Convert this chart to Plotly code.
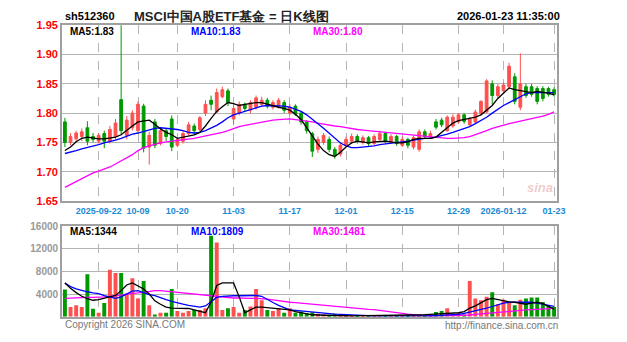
import pandas as pd
import plotly.graph_objects as go

# ---------------- data ----------------
holidays = ["2025-10-01", "2025-10-02", "2025-10-03", "2025-10-06", "2025-10-07",
            "2025-10-08", "2026-01-01", "2026-01-02"]
days = pd.bdate_range("2025-09-12", "2026-01-23")
dates = [d.strftime("%Y-%m-%d") for d in days if d.strftime("%Y-%m-%d") not in holidays]

opens = [1.785, 1.750, 1.756, 1.760, 1.775, 1.760, 1.752, 1.765, 1.752, 1.760,
         1.823, 1.762, 1.775, 1.770, 1.812, 1.742, 1.785, 1.748, 1.770, 1.790,
         1.745, 1.752, 1.765, 1.778, 1.772, 1.800, 1.822, 1.802, 1.828, 1.838,
         1.790, 1.800, 1.815, 1.805, 1.810, 1.815, 1.822, 1.810, 1.812, 1.818,
         1.800, 1.812, 1.800, 1.785, 1.765, 1.738, 1.750, 1.755, 1.738, 1.730,
         1.745, 1.752, 1.760, 1.750, 1.758, 1.748, 1.755, 1.765, 1.752, 1.760,
         1.745, 1.755, 1.742, 1.738, 1.768, 1.760, 1.785, 1.788, 1.770, 1.778,
         1.785, 1.797, 1.780, 1.785, 1.800, 1.802, 1.850, 1.830, 1.838, 1.845,
         1.862, 1.810, 1.845, 1.845, 1.842, 1.842, 1.842, 1.840]
highs = [1.792, 1.766, 1.770, 1.774, 1.786, 1.766, 1.766, 1.770, 1.778, 1.790,
         1.960, 1.795, 1.805, 1.820, 1.816, 1.768, 1.790, 1.775, 1.774, 1.796,
         1.758, 1.770, 1.785, 1.782, 1.795, 1.822, 1.830, 1.842, 1.845, 1.842,
         1.815, 1.820, 1.818, 1.822, 1.830, 1.828, 1.826, 1.822, 1.826, 1.822,
         1.815, 1.815, 1.803, 1.788, 1.768, 1.760, 1.766, 1.760, 1.742, 1.750,
         1.760, 1.765, 1.764, 1.762, 1.761, 1.764, 1.770, 1.768, 1.764, 1.763,
         1.760, 1.758, 1.762, 1.772, 1.772, 1.770, 1.790, 1.792, 1.796, 1.798,
         1.800, 1.800, 1.793, 1.806, 1.822, 1.858, 1.856, 1.850, 1.852, 1.886,
         1.868, 1.902, 1.850, 1.850, 1.846, 1.846, 1.845, 1.844]
lows = [1.742, 1.745, 1.750, 1.752, 1.745, 1.750, 1.748, 1.740, 1.748, 1.755,
        1.762, 1.755, 1.770, 1.765, 1.733, 1.712, 1.740, 1.745, 1.752, 1.735,
        1.742, 1.748, 1.762, 1.764, 1.768, 1.795, 1.805, 1.800, 1.825, 1.812,
        1.780, 1.796, 1.802, 1.800, 1.806, 1.812, 1.808, 1.806, 1.808, 1.800,
        1.796, 1.795, 1.780, 1.765, 1.725, 1.732, 1.746, 1.733, 1.722, 1.726,
        1.742, 1.748, 1.748, 1.746, 1.744, 1.745, 1.752, 1.748, 1.748, 1.744,
        1.742, 1.740, 1.738, 1.734, 1.756, 1.757, 1.772, 1.776, 1.768, 1.775,
        1.782, 1.782, 1.777, 1.782, 1.797, 1.800, 1.815, 1.826, 1.835, 1.842,
        1.815, 1.805, 1.826, 1.828, 1.815, 1.820, 1.828, 1.828]
closes = [1.750, 1.760, 1.766, 1.768, 1.752, 1.755, 1.762, 1.752, 1.772, 1.783,
          1.770, 1.788, 1.800, 1.815, 1.740, 1.762, 1.745, 1.770, 1.760, 1.742,
          1.755, 1.765, 1.780, 1.770, 1.792, 1.815, 1.815, 1.835, 1.840, 1.818,
          1.808, 1.815, 1.808, 1.818, 1.826, 1.822, 1.812, 1.818, 1.822, 1.805,
          1.810, 1.798, 1.785, 1.770, 1.735, 1.755, 1.762, 1.738, 1.728, 1.745,
          1.755, 1.760, 1.752, 1.758, 1.748, 1.760, 1.765, 1.752, 1.760, 1.748,
          1.755, 1.745, 1.758, 1.768, 1.760, 1.765, 1.776, 1.780, 1.793, 1.793,
          1.797, 1.786, 1.790, 1.802, 1.820, 1.855, 1.830, 1.845, 1.848, 1.880,
          1.820, 1.850, 1.830, 1.832, 1.820, 1.825, 1.832, 1.832]

ma5 = [1.736, 1.742, 1.751, 1.757, 1.759, 1.757, 1.756, 1.756, 1.757, 1.759,
       1.763, 1.771, 1.778, 1.785, 1.786, 1.788, 1.781, 1.773, 1.767, 1.763,
       1.757, 1.759, 1.761, 1.763, 1.767, 1.778, 1.791, 1.803, 1.811, 1.818,
       1.816, 1.813, 1.815, 1.817, 1.818, 1.818, 1.815, 1.813, 1.810, 1.808,
       1.805, 1.798, 1.789, 1.775, 1.761, 1.747, 1.736, 1.729, 1.726, 1.733,
       1.742, 1.749, 1.752, 1.751, 1.749, 1.751, 1.752, 1.752, 1.751, 1.749,
       1.749, 1.751, 1.755, 1.757, 1.757, 1.757, 1.759, 1.767, 1.775, 1.783,
       1.787, 1.789, 1.790, 1.793, 1.797, 1.805, 1.813, 1.825, 1.834, 1.843,
       1.840, 1.838, 1.836, 1.835, 1.837, 1.836, 1.834, 1.831]
ma10 = [1.731, 1.733, 1.736, 1.739, 1.741, 1.744, 1.746, 1.749, 1.751, 1.754,
        1.757, 1.761, 1.764, 1.766, 1.769, 1.772, 1.774, 1.775, 1.774, 1.774,
        1.772, 1.770, 1.767, 1.766, 1.767, 1.770, 1.774, 1.779, 1.785, 1.792,
        1.797, 1.800, 1.803, 1.807, 1.810, 1.812, 1.813, 1.813, 1.812, 1.812,
        1.810, 1.807, 1.803, 1.797, 1.790, 1.782, 1.774, 1.766, 1.757, 1.749,
        1.744, 1.741, 1.741, 1.742, 1.742, 1.744, 1.746, 1.747, 1.749, 1.749,
        1.751, 1.752, 1.754, 1.756, 1.757, 1.757, 1.759, 1.761, 1.764, 1.767,
        1.770, 1.774, 1.777, 1.782, 1.787, 1.793, 1.800, 1.807, 1.813, 1.818,
        1.823, 1.828, 1.833, 1.835, 1.835, 1.835, 1.835, 1.835]
ma30 = [1.673, 1.678, 1.683, 1.689, 1.693, 1.698, 1.701, 1.704, 1.708, 1.713,
        1.718, 1.723, 1.729, 1.736, 1.741, 1.744, 1.747, 1.749, 1.751, 1.752,
        1.754, 1.755, 1.756, 1.757, 1.759, 1.761, 1.762, 1.764, 1.767, 1.770,
        1.774, 1.777, 1.779, 1.781, 1.783, 1.785, 1.787, 1.788, 1.789, 1.790,
        1.790, 1.789, 1.788, 1.787, 1.785, 1.783, 1.781, 1.780, 1.778, 1.777,
        1.775, 1.774, 1.772, 1.771, 1.770, 1.769, 1.768, 1.767, 1.766, 1.765,
        1.764, 1.763, 1.762, 1.761, 1.760, 1.759, 1.758, 1.757, 1.757, 1.757,
        1.757, 1.758, 1.760, 1.763, 1.766, 1.770, 1.774, 1.777, 1.780, 1.782,
        1.784, 1.786, 1.788, 1.790, 1.793, 1.795, 1.798, 1.802]

volumes = [4800, 1700, 2000, 1700, 7500, 1400, 700, 2400, 8300, 7700,
           7700, 4100, 6800, 3200, 6300, 2000, 400, 700, 700, 4900,
           1000, 700, 1000, 1200, 1200, 1500, 14300, 13100, 1200, 1500,
           1700, 700, 1200, 1800, 4900, 2900, 1200, 1000, 1500, 700,
           1500, 700, 900, 600, 800, 500, 400, 300, 500, 300,
           250, 200, 300, 200, 150, 200, 250, 150, 200, 150,
           200, 250, 200, 300, 200, 250, 850, 1000, 1500, 500,
           700, 400, 6300, 3200, 2900, 3500, 4300, 2200, 3000, 2500,
           2000, 3000, 3200, 3400, 3400, 2600, 2000, 1700]
vma5 = [5960, 5000, 4250, 3600, 3200, 2900, 3000, 3230, 3500, 3740,
        4600, 5600, 5960, 5400, 4900, 4000, 2800, 2200, 1700, 1530,
        1530, 1530, 1450, 1200, 1000, 700, 2600, 5500, 5960, 5960,
        5960, 3500, 700, 1200, 1700, 1700, 1600, 1530, 1400, 1300,
        1190, 900, 700, 500, 340, 300, 250, 220, 200, 180,
        170, 160, 170, 180, 170, 160, 170, 180, 170, 200,
        250, 300, 250, 300, 340, 400, 450, 500, 600, 680,
        700, 900, 1500, 1900, 2500, 3000, 3230, 3000, 2800, 2600,
        2550, 2400, 2200, 2400, 2550, 2300, 1800, 1344]
vma10 = [5960, 5300, 4900, 4600, 4400, 4200, 4085, 3700, 3400, 3230,
         3500, 4000, 4500, 4600, 4200, 3900, 3700, 3300, 3000, 2700,
         2400, 2200, 2000, 1800, 1700, 1900, 2700, 3400, 3600, 3700,
         3700, 3700, 3740, 3740, 3740, 3600, 3000, 2500, 2000, 1530,
         1200, 1100, 1000, 850, 850, 750, 650, 550, 450, 400,
         340, 300, 250, 200, 170, 160, 150, 140, 130, 120,
         120, 130, 140, 150, 160, 170, 200, 250, 300, 340,
         400, 600, 800, 1000, 1200, 1500, 1800, 2100, 2400, 2550,
         2550, 2550, 2550, 2550, 2400, 2200, 2000, 1809]
vma30 = [3230, 3300, 3300, 3350, 3400, 3400, 3400, 3500, 3600, 3740,
         3900, 4000, 4100, 4200, 4300, 4500, 4600, 4600, 4500, 4400,
         4250, 4200, 4000, 3900, 3800, 3740, 3600, 3500, 3400, 3350,
         3300, 3300, 3230, 3230, 3230, 3230, 3100, 2950, 2800, 2650,
         2550, 2500, 2400, 2300, 2200, 2100, 2000, 1900, 1850, 1750,
         1700, 1600, 1500, 1400, 1300, 1250, 1190, 1000, 850, 680,
         550, 450, 350, 250, 200, 170, 170, 170, 170, 170,
         170, 200, 300, 400, 500, 600, 680, 800, 900, 1000,
         1050, 1100, 1190, 1250, 1300, 1350, 1400, 1481]

tick_dates = ["2025-09-22", "2025-10-09", "2025-10-20", "2025-11-03", "2025-11-17",
              "2025-12-01", "2025-12-15", "2025-12-29", "2026-01-12", "2026-01-23"]
tick_text = ["2025-09-22", "10-09", "10-20", "11-03", "11-17",
             "12-01", "12-15", "12-29", "2026-01-12", "01-23"]
price_ticks = [1.65, 1.70, 1.75, 1.80, 1.85, 1.90, 1.95]
vol_ticks = [4000, 8000, 12000, 16000]

code = "sh512360"
title = "MSCI中国A股ETF基金 = 日K线图"
stamp = "2026-01-23 11:35:00"
price_ma_text = ["MA5:1.83", "MA10:1.83", "MA30:1.80"]
vol_ma_text = ["MA5:1344", "MA10:1809", "MA30:1481"]

# ---------------- figure ----------------
W, H = 627, 342
UP, DOWN = "#ff5050", "#009900"
FONT = "Liberation Sans"


def px(x):
    return x / W


def py(y):
    return 1 - y / H


fig = go.Figure()
fig.add_trace(go.Candlestick(
    x=dates, open=opens, high=highs, low=lows, close=closes,
    increasing=dict(line=dict(color=UP, width=1), fillcolor=UP),
    decreasing=dict(line=dict(color=DOWN, width=1), fillcolor=DOWN),
    whiskerwidth=0, xaxis="x", yaxis="y", hoverinfo="skip"))
for ser, col in [(ma30, "#ff00ff"), (ma10, "#0000ff"), (ma5, "#000000")]:
    fig.add_trace(go.Scatter(x=dates, y=ser, mode="lines",
                             line=dict(color=col, width=1.3), xaxis="x", yaxis="y"))

bar_colors = [UP if c >= o else DOWN for o, c in zip(opens, closes)]
fig.add_trace(go.Bar(x=dates, y=volumes, marker=dict(color=bar_colors, line=dict(width=0)),
                     xaxis="x2", yaxis="y2"))
for ser, col in [(vma30, "#ff00ff"), (vma10, "#0000ff"), (vma5, "#000000")]:
    fig.add_trace(go.Scatter(x=dates, y=ser, mode="lines",
                             line=dict(color=col, width=1.3), xaxis="x2", yaxis="y2"))

grid = "#b4b4b4"
xdom = [px(63), px(565)]
common_x = dict(type="category", categoryorder="array", categoryarray=dates,
                range=[-0.5, len(dates) - 0.5], domain=xdom,
                tickmode="array", tickvals=tick_dates, showgrid=True,
                gridcolor=grid, griddash="dash", gridwidth=1,
                showline=True, linecolor="#a0a0a0", linewidth=2, mirror=True,
                ticks="", tickangle=0, rangeslider=dict(visible=False), fixedrange=True)

fig.update_layout(
    width=W, height=H, margin=dict(l=0, r=0, t=0, b=0),
    paper_bgcolor="white", plot_bgcolor="white", showlegend=False,
    bargap=0.3,
    xaxis=dict(common_x, anchor="y", ticktext=tick_text,
               tickfont=dict(family=FONT, size=9, color="#1a8ad4", weight="bold")),
    xaxis2=dict(common_x, anchor="y2", showticklabels=False),
    yaxis=dict(domain=[py(202), py(20)], range=[1.65, 1.95], tickmode="array",
               tickvals=price_ticks, ticktext=["%.2f" % v for v in price_ticks],
               tickfont=dict(family=FONT, size=11, color="#ff0000", weight="bold"),
               showgrid=True, gridcolor=grid, gridwidth=1, zeroline=False,
               showline=True, linecolor="#a0a0a0", linewidth=2, mirror=True,
               ticks="", anchor="x", fixedrange=True),
    yaxis2=dict(domain=[py(322), py(228)], range=[0, 16000], tickmode="array",
                tickvals=vol_ticks, ticktext=[str(v) for v in vol_ticks],
                tickfont=dict(family=FONT, size=10, color="#999999", weight="bold"),
                showgrid=True, gridcolor=grid, gridwidth=1, zeroline=False,
                showline=True, linecolor="#a0a0a0", linewidth=2, mirror=True,
                ticks="", anchor="x2", fixedrange=True),
)

ann = []


def txt(x, y, s, color, size=10, anchor="left", weight="bold", italic=False):
    ann.append(dict(x=px(x), y=py(y), xref="paper", yref="paper", text=s,
                    showarrow=False, xanchor=anchor, yanchor="middle",
                    font=dict(family=FONT, size=size, color=color,
                              weight=weight, style="italic" if italic else "normal")))


txt(64, 10, code, "#000000", 11)
txt(235, 11, title, "#222222", 13, anchor="center")
txt(570, 10, stamp, "#000000", 11, anchor="right")
for s, x, c in zip(price_ma_text, [69, 192, 316], ["#000000", "#0000ff", "#ff00ff"]):
    txt(x, 26, s, c, 10)
for s, x, c in zip(vol_ma_text, [69, 192, 316], ["#000000", "#0000ff", "#ff00ff"]):
    txt(x, 234, s, c, 10)
txt(64, 330, "Copyright 2026 SINA.COM", "#777777", 10, weight="normal")
txt(568, 331, "http://finance.sina.com.cn", "#777777", 10, anchor="right", weight="normal")
txt(548, 188, "sina", "rgba(225,140,140,0.45)", 13, anchor="center", italic=True)
fig.update_layout(annotations=ann)

fig.write_html("out.html")
